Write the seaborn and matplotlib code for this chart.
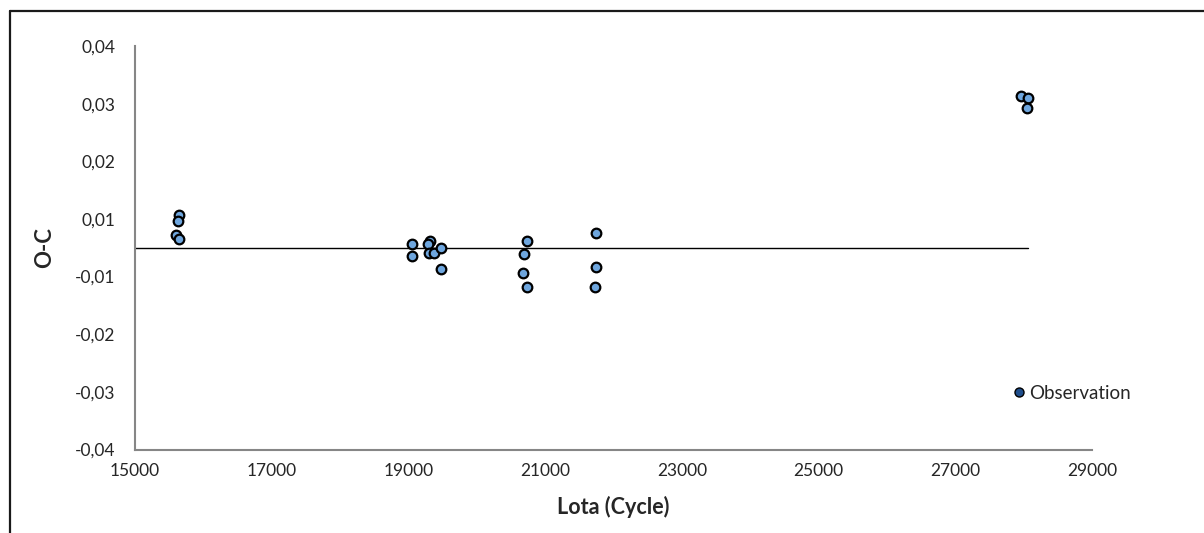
import numpy as np
import pandas as pd
import seaborn as sns
import matplotlib
matplotlib.use("Agg")
import matplotlib.pyplot as plt
from matplotlib.lines import Line2D
from matplotlib.ticker import FuncFormatter

cycle = [15652, 15637, 15604, 15643,
         19058, 19058, 19317, 19284, 19307, 19376, 19478, 19478,
         20731, 20687, 20673, 20736, 21744, 21744, 21734,
         27957, 28055, 28045]
oc = [0.0065, 0.0054, 0.0025, 0.0017,
      0.0007, -0.0016, 0.0013, 0.0007, -0.0010, -0.0010, 0.0000, -0.0043,
      0.0013, -0.0012, -0.0049, -0.0078, 0.0030, -0.0039, -0.0078,
      0.0301, 0.0296, 0.0277]

# zero line
line_x = [15000, 28055]
line_y = [0, 0]

x_ticks = [15000, 17000, 19000, 21000, 23000, 25000, 27000, 29000]

df = pd.DataFrame({'cycle': cycle, 'oc': oc})

sns.set_style('white')
plt.rcParams['font.family'] = ['Lato', 'DejaVu Sans']

fig = plt.figure(figsize=(12.04, 5.33), dpi=100)
ax = fig.add_axes([0.1119, 0.1565, 0.9072 - 0.1119, 0.9137 - 0.1565])

ax.plot(line_x, line_y, color='black', lw=1.0, zorder=1)
sns.scatterplot(data=df, x='cycle', y='oc', ax=ax, s=48, color='#6EA6DE',
                edgecolor='black', linewidth=1.6, zorder=3, legend=False)

ax.set_xlim(15000, 29000)
ax.set_ylim(-0.04, 0.04)
ax.set_xticks(x_ticks)
ax.set_yticks(np.linspace(-0.04, 0.04, 8))
ax.yaxis.set_major_formatter(FuncFormatter(lambda v, p: ('%.2f' % v).replace('.', ',')))

for s in ['top', 'right']:
    ax.spines[s].set_visible(False)
for s in ['left', 'bottom']:
    ax.spines[s].set_color('#868686')
    ax.spines[s].set_linewidth(1.5)

ax.tick_params(axis='y', direction='in', length=5, width=1, color='#404040',
               pad=14, labelsize=12.5, labelcolor='#262626')
ax.tick_params(axis='x', direction='in', length=5, width=1, color='#404040',
               pad=10, labelsize=12.5, labelcolor='#262626')

ax.set_xlabel('Lota (Cycle)', fontsize=15.5, fontweight='bold', labelpad=12)
ax.set_ylabel('O-C', fontsize=16, fontweight='bold', labelpad=14)

handle = Line2D([], [], marker='o', linestyle='', markersize=6.5,
                markerfacecolor='#1F4E8C', markeredgecolor='black', markeredgewidth=1)
ax.legend([handle], ['Observation'], loc='center left', frameon=False,
          bbox_to_anchor=(0.896, 0.14), fontsize=13.5, handletextpad=0.05,
          handlelength=1.0)

# outer chart border (left and top visible)
fig.add_artist(Line2D([10 / 1204, 10 / 1204], [0, 1 - 10.5 / 533], color='#1a1a1a', lw=1.6))
fig.add_artist(Line2D([10 / 1204, 1], [1 - 10.5 / 533, 1 - 10.5 / 533], color='#1a1a1a', lw=1.6))

plt.savefig('out.png', dpi=100)
